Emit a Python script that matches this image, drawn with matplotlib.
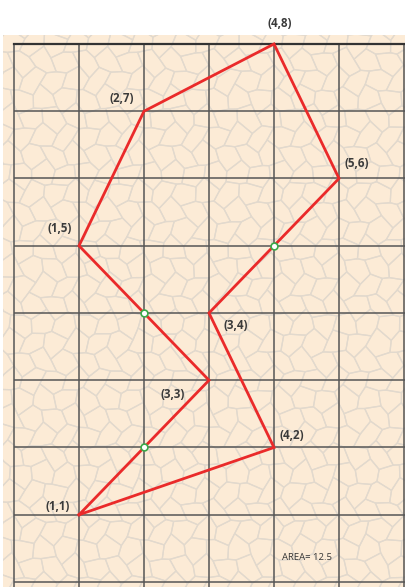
import numpy as np
import matplotlib
matplotlib.use("Agg")
import matplotlib.pyplot as plt
from matplotlib.patches import Rectangle
from matplotlib.collections import PolyCollection
from matplotlib.transforms import IdentityTransform

# polygon vertices (in drawing order, closed back to the first)
vertex_x = [1, 3, 1, 2, 4, 5, 3, 4]
vertex_y = [1, 3, 5, 7, 8, 6, 4, 2]
labels = ["(1,1)", "(3,3)", "(1,5)", "(2,7)", "(4,8)", "(5,6)", "(3,4)", "(4,2)"]
# label offsets in pixels
offsets = [(-21, 8), (-36, -14), (-19, 17), (-22, 13), (6, 20), (18, 15), (27, -13), (18, 12)]

# crossing points marked with small circles
cross_x = [2, 2, 4]
cross_y = [2, 4, 5]

area_text = "AREA= 12.5"

fig = plt.figure(figsize=(4.05, 5.87), dpi=100)
ax = fig.add_axes([0, 0, 1, 1])
ax.set_xlim(-14 / 65, 6 + 1 / 65)
ax.set_ylim(-5 / 67.3, 8 + 44 / 67.3)
ax.axis("off")

# beige paper
bg = Rectangle((-11 / 65, -5 / 67.3), 6.5, 8 + 9 / 67.3 + 5 / 67.3,
               facecolor="#fcebd6", edgecolor="none", zorder=0)
ax.add_patch(bg)

# cell texture (in pixels), hex grid bent a little so it looks less regular
def bend(px, py):
    return (px + 3.5 * np.sin(0.21 * py + 0.5 * np.cos(0.13 * px)),
            py + 3.5 * np.sin(0.19 * px + 0.7 * np.cos(0.11 * py)))

r = 12.5
w = np.sqrt(3) * r
ang = np.radians(np.arange(6) * 60 + 30)
polys = []
for j in range(-1, 36):
    for i in range(-1, 22):
        cx = i * w + (w / 2 if j % 2 else 0)
        cy = j * 1.5 * r
        vx, vy = bend(cx + r * np.cos(ang), cy + r * np.sin(ang))
        polys.append(np.column_stack([vx, vy]))
pc = PolyCollection(polys, facecolor="none", edgecolor="#e2d9cd", linewidth=0.9,
                    transform=IdentityTransform(), zorder=1)
ax.add_collection(pc)
pc.set_clip_path(bg)

# grid
for gx in range(7):
    ax.plot([gx, gx], [-1, 8], color="#555555", lw=1.1, zorder=2, solid_capstyle="butt")
for gy in range(8):
    ax.plot([0, 6.2], [gy, gy], color="#555555", lw=1.1, zorder=2, solid_capstyle="butt")
ax.plot([0, 6.2], [8, 8], color="#333333", lw=1.6, zorder=2)

# polygon outline
ax.plot(vertex_x + [vertex_x[0]], vertex_y + [vertex_y[0]], color="#ea2a2a", lw=2.0,
        zorder=3, solid_joinstyle="miter")

ax.scatter(cross_x, cross_y, s=24, facecolor="white", edgecolor="#3aaa48", linewidth=1.2, zorder=4)

for x, y, t, (dx, dy) in zip(vertex_x, vertex_y, labels, offsets):
    ax.annotate(t, (x, y), xytext=(dx, dy), textcoords="offset pixels",
                ha="center", va="center", fontsize=8.3, fontweight="bold",
                family="Open Sans", color="#3a3a3a", zorder=5)

ax.text(4.5, 0.37, area_text, ha="center", va="center", fontsize=6.8,
        family="Open Sans", color="#333333", zorder=5)

fig.savefig("out.png", dpi=100, facecolor="white")
